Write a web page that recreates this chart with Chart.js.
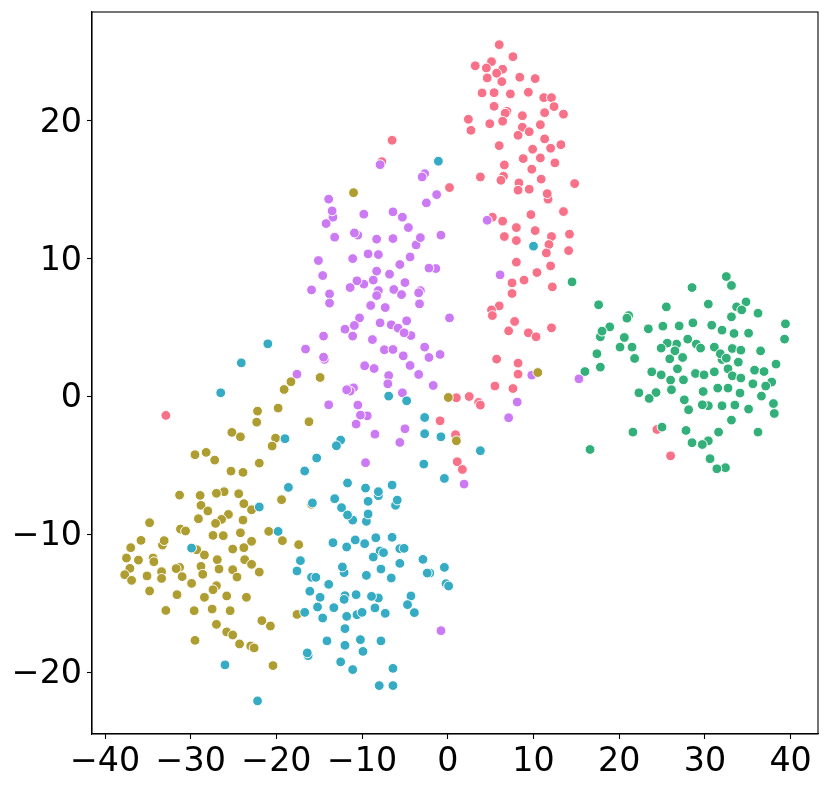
<!DOCTYPE html>
<html><head><meta charset="utf-8">
<style>html,body{margin:0;padding:0;background:#fff}canvas{display:block}</style>
<script src="https://cdn.jsdelivr.net/npm/chart.js@4"></script>
</head><body><canvas id="c" width="830" height="789"></canvas>
<script>
const pink=[[-32.9,-1.35],[-6.5,18.6],[-7.7,17.05],[0.2,15.17],[3.8,15.94],[-0.9,-1.74],[0.9,-2.75],[1.1,-4.71],[1.7,-5.27],[1.0,-0.07],[2.5,0.02],[3.6,-0.41],[3.8,-0.6],
[5.2,13.02],[6.4,12.73],[9.7,13.21],[13.5,13.43],[11.7,14.28],[8.0,12.27],[10.2,12.05],[6.6,11.62],[8.0,11.33],[12.1,11.62],[14.2,11.79],[11.8,11.04],[11.5,10.43],[14.1,10.6],[8.0,9.76],[12.0,9.49],[10.4,9.01],[8.9,8.46],[7.5,8.26],[12.2,7.97],[7.5,7.49],[6.0,6.59],[5.1,6.3],[5.2,5.89],[7.8,5.46],[7.1,4.78],[9.4,4.64],[10.3,4.35],[12.1,5.0],[5.7,2.73],[8.2,2.44],[8.2,1.64],[5.5,0.78],[7.6,0.6],
[6.0,25.53],[7.6,24.66],[5.1,24.3],[3.2,24.0],[4.5,23.84],[6.4,23.75],[5.7,23.46],[4.6,23.12],[6.3,22.85],[8.4,23.17],[10.2,23.07],[4.0,22.03],[5.4,22.05],[7.3,21.96],[9.4,22.08],[11.2,21.69],[12.1,21.69],[12.4,21.04],[5.4,21.06],[6.9,20.7],[6.7,20.56],[8.7,20.38],[11.3,20.6],[13.5,20.49],[2.4,20.12],[4.9,19.8],[6.4,19.98],[10.8,19.73],[2.7,19.32],[8.7,19.54],[9.5,19.22],[8.2,18.96],[11.3,18.7],[6.0,18.21],[12.0,18.02],[13.2,18.28],[9.9,17.95],[8.8,17.27],[10.8,17.32],[12.5,16.96],[6.6,16.81],[9.8,16.5],[6.5,15.99],[6.2,15.7],[10.9,15.78],[8.3,15.51],[8.2,14.98],[9.5,15.05],[14.8,15.46],[11.7,14.33],[11.6,14.73],
[24.4,-2.37],[26.0,-4.28]];
const gold=[[-18.3,1.09],[-19.1,0.53],[-14.9,1.4],[-19.8,-0.82],[-22.2,-1.04],[-22.3,-1.84],[-16.2,-1.81],[-25.2,-2.58],[-24.2,-2.9],[-20.1,-3.0],[-20.5,-3.57],[-29.5,-4.2],[-28.2,-4.03],[-27.2,-4.59],[-22.0,-4.81],[-25.3,-5.39],[-23.9,-5.48],[-19.4,-7.46],[-15.9,-7.8],[-31.3,-7.13],[-28.9,-7.15],[-26.1,-6.88],[-27.0,-7.0],[-24.4,-7.03],[-23.8,-7.75],[-22.9,-8.19],[-28.8,-7.87],[-28.0,-8.28],[-25.6,-8.53],[-29.1,-8.84],[-26.4,-8.89],[-27.1,-9.18],[-23.9,-8.94],[-34.8,-9.13],[-31.2,-9.59],[-30.6,-9.73],[-27.4,-10.05],[-26.2,-10.07],[-24.2,-9.86],[-20.9,-9.76],[-19.3,-10.43],[-17.4,-10.72],[-22.9,-10.48],[-23.8,-10.94],[-25.1,-11.04],[-35.8,-10.41],[-33.3,-10.75],[-33.1,-10.43],[-37.0,-10.94],[-29.3,-11.09],[-28.4,-11.47],[-37.5,-11.69],[-36.1,-11.84],[-34.4,-11.69],[-34.3,-11.96],[-26.9,-11.81],[-23.7,-11.81],[-22.9,-12.15],[-37.1,-12.44],[-31.3,-12.37],[-31.7,-12.46],[-28.8,-12.29],[-26.7,-12.49],[-25.1,-12.54],[-22.0,-12.71],[-37.7,-12.9],[-33.4,-12.68],[-28.6,-12.87],[-36.9,-13.31],[-35.1,-12.99],[-33.4,-13.17],[-31.0,-13.04],[-24.6,-13.07],[-29.9,-13.53],[-27.0,-13.7],[-27.4,-13.99],[-34.8,-14.08],[-31.6,-14.35],[-28.4,-14.54],[-25.8,-14.44],[-23.5,-14.54],[-32.9,-15.49],[-29.6,-15.51],[-27.5,-15.39],[-25.4,-15.51],[-17.6,-15.78],[-21.7,-16.23],[-20.7,-16.62],[-27.0,-16.5],[-25.8,-17.05],[-25.1,-17.27],[-24.3,-17.92],[-23.0,-18.07],[-22.6,-18.21],[-29.5,-17.66],[-20.4,-19.49],[-11.0,14.8],[0.06,-0.05],[1.0,-3.19],[10.5,1.76]];
const green=[[14.5,8.33],[16.0,1.83],[17.6,6.67],[28.5,7.92],[25.5,6.52],[21.1,5.89],[20.9,5.7],[18.9,5.07],[17.8,4.35],[18.0,4.76],[23.4,4.93],[25.1,5.12],[27.0,5.14],[28.6,5.36],[20.6,4.3],[20.1,3.6],[21.5,3.6],[28.0,4.18],[29.0,3.82],[26.7,3.82],[25.6,3.89],[24.9,3.53],[26.5,3.33],[17.4,3.12],[21.8,2.78],[25.9,2.75],[27.4,2.85],[17.8,2.15],[26.8,2.03],[23.8,1.81],[24.9,1.59],[28.9,1.69],[26.0,1.21],[27.5,1.23],[26.1,0.51],[22.3,0.29],[24.3,0.31],[23.5,-0.12],[27.6,-0.22],[28.1,-0.94],[25.0,-2.2],[21.6,-2.56],[27.8,-2.44],[28.5,-3.33],[16.6,-3.82],
[32.5,8.72],[33.1,8.07],[30.4,6.72],[33.7,6.52],[34.8,6.88],[34.3,6.3],[36.2,6.06],[33.1,5.8],[39.4,5.29],[39.3,4.18],[30.8,5.19],[32.0,4.83],[33.4,4.59],[35.1,4.61],[29.5,3.53],[31.1,3.6],[33.2,3.5],[34.2,3.38],[36.5,3.33],[32.0,2.7],[31.8,3.12],[32.5,2.8],[33.9,2.51],[38.3,2.37],[32.7,2.03],[35.8,1.93],[36.9,1.83],[29.9,1.59],[31.1,1.81],[33.2,1.52],[34.2,1.36],[37.8,1.07],[35.6,0.94],[37.1,0.78],[31.5,0.63],[32.7,0.63],[29.8,0.38],[34.1,0.27],[36.6,0.05],[30.4,-0.65],[29.7,-0.58],[32.0,-0.65],[33.5,-0.6],[38.0,-0.49],[35.1,-0.89],[38.1,-1.21],[33.1,-1.69],[31.6,-2.56],[36.2,-2.56],[30.4,-3.19],[29.7,-3.46],[30.6,-4.49],[32.4,-5.14],[31.4,-5.22]];
const teal=[[-26.5,0.29],[-24.1,2.46],[-21.0,3.84],[-19.0,-3.04],[-12.5,-3.14],[-13.0,-3.55],[-15.3,-4.44],[-16.7,-5.38],[-18.6,-6.57],[-22.0,-7.99],[-13.2,-7.39],[-19.8,-9.76],[-29.9,-10.97],[-13.4,-10.58],[-17.2,-11.88],[-17.6,-12.63],[-15.9,-13.09],[-15.4,-13.09],[-13.9,-13.6],[-16.1,-14.1],[-14.9,-14.54],[-15.2,-15.24],[-13.3,-15.29],[-16.7,-15.63],[-14.6,-16.04],[-26.0,-19.44],[-22.2,-22.05],[-16.3,-18.77],[-16.4,-18.57],[-14.1,-17.7],[-15.8,-7.7],
[-11.7,-6.25],[-9.6,-6.62],[-8.1,-7.17],[-8.1,-6.88],[-6.5,-6.4],[-9.3,-7.58],[-6.1,-7.87],[-5.9,-7.49],[-12.4,-8.04],[-11.1,-8.94],[-11.7,-8.57],[-9.5,-9.03],[-9.3,-8.5],[-0.4,-5.92],[-10.8,-10.38],[-11.8,-10.89],[-9.7,-10.65],[-8.4,-10.22],[-6.5,-10.19],[-7.9,-11.18],[-7.5,-11.3],[-5.6,-11.01],[-5.1,-10.99],[-8.7,-11.62],[-2.9,-11.79],[-5.6,-12.08],[-7.8,-12.49],[-12.1,-12.75],[-12.3,-12.34],[-9.5,-12.95],[-6.6,-13.14],[-2.1,-12.78],[-2.4,-12.78],[-0.4,-12.37],[-0.2,-13.55],[0.1,-13.72],[-12.0,-14.42],[-12.1,-14.69],[-10.7,-14.35],[-8.1,-14.59],[-8.9,-14.47],[-4.3,-14.44],[-4.7,-15.07],[-3.9,-15.65],[-8.5,-15.31],[-7.3,-15.7],[-11.8,-15.92],[-10.6,-15.8],[-10.0,-15.63],[-12.0,-16.81],[-12.0,-18.02],[-10.2,-17.61],[-7.8,-17.7],[-9.9,-18.46],[-12.5,-19.22],[-11.1,-19.78],[-6.4,-19.69],[-8.0,-20.94],[-6.4,-20.94],
[-6.9,0.05],[-4.8,-0.29],[-2.7,-1.5],[-2.7,-2.68],[-0.8,-2.9],[-2.8,-4.88],[3.8,-3.91],[-1.1,17.08],[10.0,10.92]];
const purple=[[-0.8,-16.96],[1.9,-6.33],[-13.8,7.46],[-13.8,6.79],[-11.4,7.92],[-9.0,6.62],[-7.3,6.47],[-3.3,6.74],[0.2,5.72],[-10.3,5.72],[-10.9,5.17],[-12.0,4.9],[-11.1,4.4],[-14.5,4.4],[-7.9,5.36],[-6.6,5.22],[-5.8,4.98],[-4.8,5.51],[-4.3,4.44],[-5.1,4.64],[-8.8,4.15],[-16.6,3.46],[-7.4,3.41],[-6.4,3.43],[-2.7,3.6],[-5.2,2.97],[-2.2,2.85],[-0.9,3.07],[-14.4,2.71],[-14.5,2.87],[-9.7,2.25],[-8.6,2.05],[-4.4,2.27],[-3.4,1.62],[-17.6,1.64],[-6.9,1.54],[-7.0,0.94],[-1.7,0.82],[-11.0,0.65],[-11.4,0.41],[-11.8,0.51],[-5.3,0.29],[-13.9,-0.58],[-10.5,-0.6],[-9.4,-1.38],[-10.2,-1.33],[-10.7,-1.98],[-5.0,-2.32],[-8.5,-2.71],[-5.6,-3.31],[-9.6,-4.78],
[-7.9,16.83],[-2.7,16.18],[-3.0,15.94],[-1.3,14.66],[-2.5,14.06],[-13.9,14.33],[-13.4,13.02],[-13.5,13.48],[-14.2,12.56],[-9.8,13.24],[-6.4,13.41],[-5.3,13.02],[-4.6,12.27],[-13.2,11.57],[-10.5,11.72],[-10.9,11.88],[-8.3,11.43],[-6.4,11.47],[-3.7,11.01],[-3.2,11.54],[-0.8,11.72],[4.6,12.8],[-9.3,10.36],[-8.1,10.31],[-11.1,10.02],[-4.4,10.14],[-15.1,9.88],[-5.6,9.59],[-1.4,9.3],[-2.2,9.33],[-14.6,8.79],[-8.3,9.11],[-6.8,8.89],[-8.7,8.46],[-9.8,8.17],[-10.6,8.41],[-5.0,8.28],[-15.9,7.75],[-8.1,7.7],[-8.3,7.34],[-6.3,7.78],[-5.4,7.41],[-3.2,7.7],[-3.4,7.54],
[6.1,8.84],[9.8,1.57],[8.1,-0.38],[7.1,-1.52],[15.3,1.3]];
const colors={pink:'#f77189',gold:'#ae9d31',green:'#33b07a',teal:'#36abc4',purple:'#cc7af4'};
const xTicks=[-40,-30,-20,-10,0,10,20,30,40];
const yTicks=[-20,-10,0,10,20];
const fmt=v=>String(v).replace('-','\u2212');
const series=[['pink',pink,5],['green',green,4],['purple',purple,3],['gold',gold,2],['teal',teal,1]];
const font={family:'"DejaVu Sans"',size:33.3};
const frame={id:'frame',afterDatasetsDraw(c){const a=c.chartArea,g=c.ctx;g.save();g.strokeStyle='#000';g.lineWidth=1.1;g.strokeRect(a.left,a.top,a.right-a.left,a.bottom-a.top);g.restore();}};
new Chart(document.getElementById('c'),{
 type:'scatter',
 data:{datasets:series.map(([n,d,o])=>({label:n,order:o,data:d.map(p=>({x:p[0],y:p[1]})),backgroundColor:colors[n],borderColor:'#fff',borderWidth:1,pointRadius:4.9,pointHoverRadius:4.9}))},
 options:{responsive:false,animation:false,devicePixelRatio:1,
  layout:{padding:{left:0,right:12,top:12,bottom:0}},
  plugins:{legend:{display:false},tooltip:{enabled:false}},
  scales:{
   x:{type:'linear',min:-41.52,max:43.2,afterFit(s){s.height=55;s.paddingLeft=0;s.paddingRight=0;},
      afterBuildTicks(s){s.ticks=xTicks.map(v=>({value:v}));},
      ticks:{font,color:'#000',padding:3,maxRotation:0,autoSkip:false,callback:fmt},
      grid:{drawOnChartArea:false,drawTicks:true,tickLength:5,tickColor:'#000',tickWidth:1.1},border:{color:'#000',width:1.1}},
   y:{type:'linear',min:-24.45,max:27.9,afterFit(s){s.width=92;s.paddingTop=0;s.paddingBottom=0;},
      afterBuildTicks(s){s.ticks=yTicks.map(v=>({value:v}));},
      ticks:{font,color:'#000',padding:5,labelOffset:2,autoSkip:false,callback:fmt},
      grid:{drawOnChartArea:false,drawTicks:true,tickLength:5,tickColor:'#000',tickWidth:1.1},border:{color:'#000',width:1.1}}
  }},
 plugins:[frame]
});
</script></body></html>
